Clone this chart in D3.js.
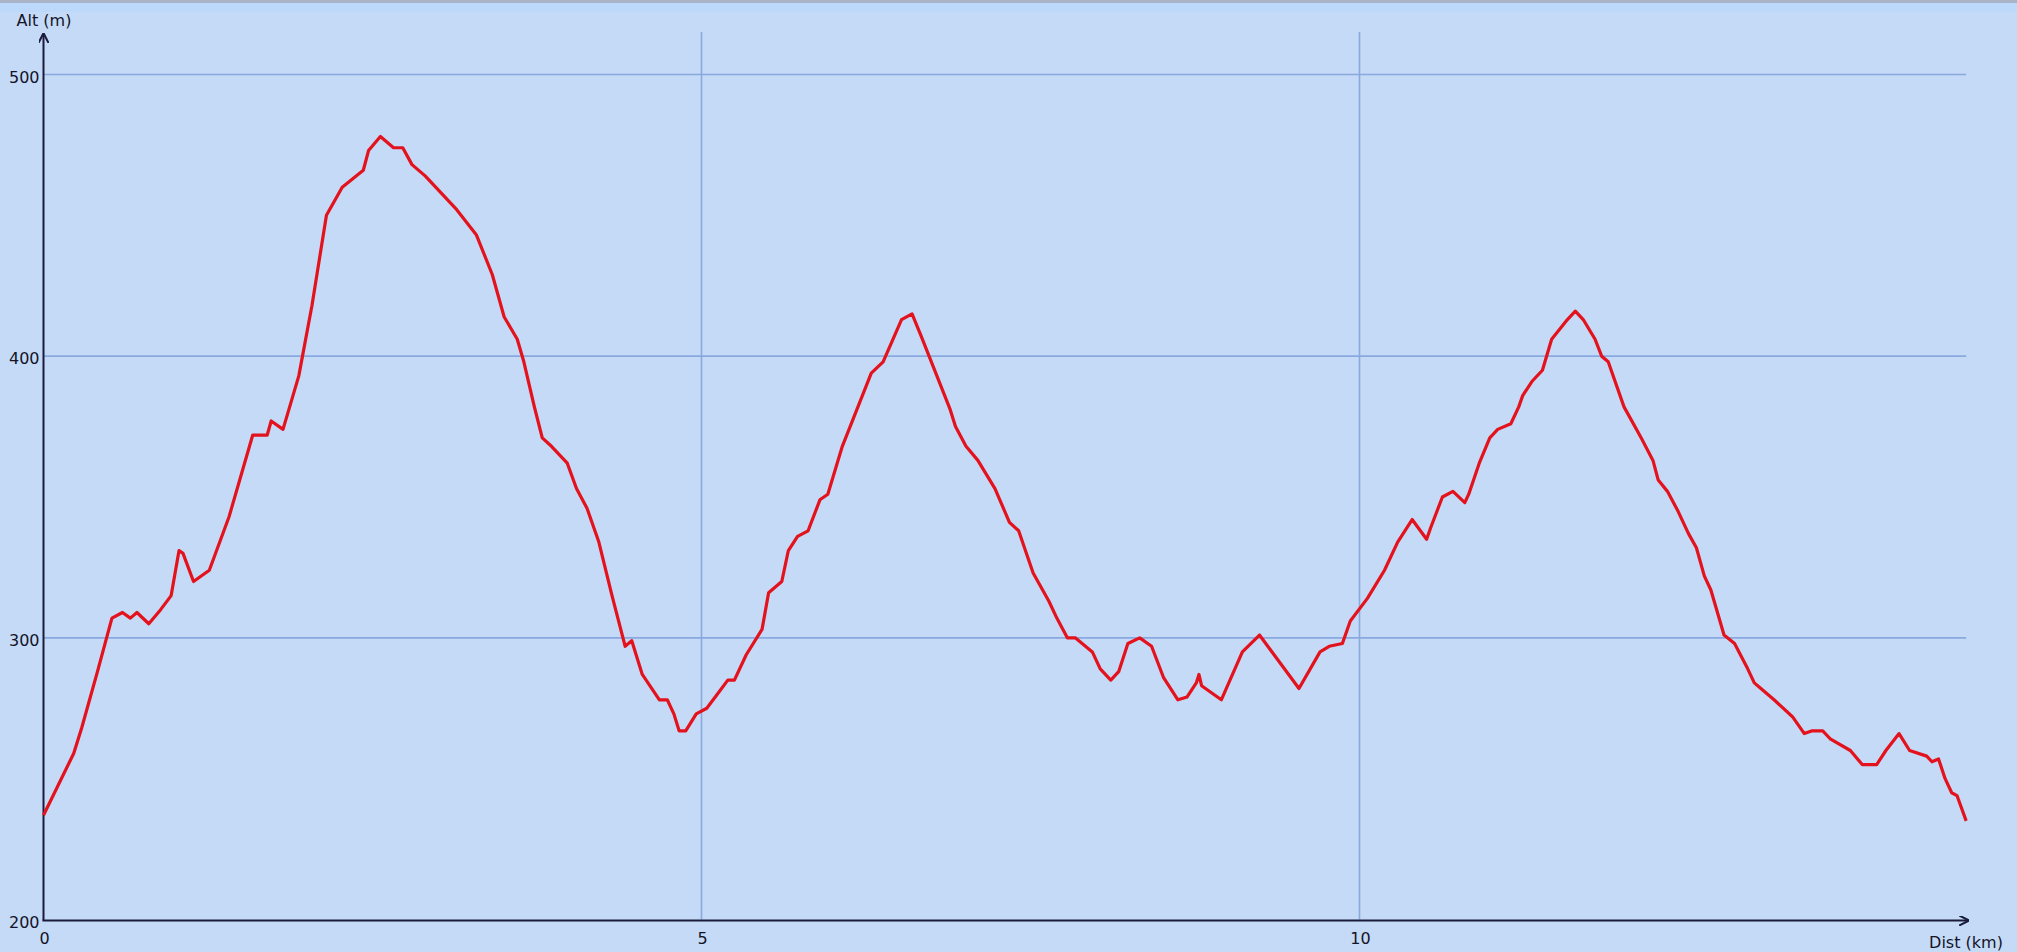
<!DOCTYPE html>
<html>
<head>
<meta charset="utf-8">
<script src="https://cdn.jsdelivr.net/npm/d3@7"></script>
<style>
  body { margin: 0; background: #c4daf6; overflow: hidden; }
  svg { display: block; }
  text { font-family: "DejaVu Sans", sans-serif; font-size: 16px; fill: #141428; }
</style>
</head>
<body>
<svg width="2017" height="952"></svg>
<script>
// profile: distance (km) and altitude (m)
var distKm = [0, 0.23, 0.29, 0.41, 0.52, 0.60, 0.66, 0.71, 0.80, 0.89, 0.97, 1.03, 1.06, 1.14, 1.26, 1.41, 1.59, 1.70, 1.73, 1.82,
  1.94, 2.04, 2.15, 2.27, 2.43, 2.47, 2.56, 2.66, 2.73, 2.80, 2.90, 3.14, 3.29, 3.41, 3.50, 3.60, 3.65, 3.73, 3.79, 3.86,
  3.98, 4.05, 4.13, 4.22, 4.32, 4.42, 4.47, 4.55, 4.68, 4.74, 4.79, 4.83, 4.88, 4.96, 5.04, 5.12, 5.20, 5.25, 5.34, 5.46,
  5.51, 5.61, 5.66, 5.73, 5.81, 5.90, 5.96, 6.07, 6.29, 6.38, 6.52, 6.60, 6.67, 6.89, 6.93, 7.01, 7.10, 7.23, 7.34, 7.41,
  7.52, 7.64, 7.70, 7.78, 7.84, 7.97, 8.03, 8.11, 8.17, 8.24, 8.33, 8.42, 8.51, 8.62, 8.69, 8.76, 8.78, 8.80, 8.95, 9.11,
  9.24, 9.54, 9.70, 9.77, 9.87, 9.93, 10.06, 10.19, 10.29, 10.40, 10.51, 10.54, 10.63, 10.71, 10.80, 10.83, 10.91, 10.99, 11.05, 11.15,
  11.21, 11.24, 11.31, 11.39, 11.46, 11.58, 11.64, 11.70, 11.79, 11.84, 11.89, 12.01, 12.14, 12.23, 12.27, 12.34, 12.42, 12.50, 12.56, 12.62,
  12.67, 12.77, 12.85, 12.95, 13.00, 13.05, 13.15, 13.29, 13.38, 13.44, 13.52, 13.58, 13.73, 13.82, 13.93, 14.00, 14.10, 14.18, 14.31, 14.35,
  14.40, 14.45, 14.50, 14.54, 14.61];
var altM = [237, 259, 268, 288, 307, 309, 307, 309, 305, 310, 315, 331, 330, 320, 324, 343, 372, 372, 377, 374,
  393, 418, 450, 460, 466, 473, 478, 474, 474, 468, 464, 452, 443, 429, 414, 406, 398, 382, 371, 368,
  362, 353, 346, 334, 315, 297, 299, 287, 278, 278, 273, 267, 267, 273, 275, 280, 285, 285, 294, 303,
  316, 320, 331, 336, 338, 349, 351, 368, 394, 398, 413, 415, 407, 381, 375, 368, 363, 353, 341, 338,
  323, 313, 307, 300, 300, 295, 289, 285, 288, 298, 300, 297, 286, 278, 279, 284, 287, 283, 278, 295,
  301, 282, 295, 297, 298, 306, 314, 324, 334, 342, 335, 339, 350, 352, 348, 351, 362, 371, 374, 376,
  382, 386, 391, 395, 406, 413, 416, 413, 406, 400, 398, 382, 371, 363, 356, 352, 345, 337, 332, 322,
  317, 301, 298, 289, 284, 282, 278, 272, 266, 267, 267, 264, 260, 255, 255, 260, 266, 260, 258, 256,
  257, 250, 245, 244, 235];

var xTicks = [0, 5, 10];
var yTicks = [200, 300, 400, 500];
var xLabel = "Dist (km)";
var yLabel = "Alt (m)";

document.addEventListener('DOMContentLoaded', function () {
    const svg = d3.select('svg');
    const width = 2017, height = 952;

    const xScale = d3.scaleLinear().domain([0, 15]).range([43.5, 43.5 + 15 * 131.6]);
    const yScale = d3.scaleLinear().domain([200, 500]).range([919.5, 74.5]);
    const xEnd = xScale(d3.max(distKm));

    // background + top strip
    svg.append('rect').attr('width', width).attr('height', height).attr('fill', '#c4daf6');
    svg.append('rect').attr('width', width).attr('height', 12).attr('fill', '#bcd9fb');
    svg.append('rect').attr('width', width).attr('height', 3).attr('fill', '#a9b4c6');

    const defs = svg.append('defs');
    defs.append('marker').attr('id', 'arrow')
        .attr('viewBox', '0 0 10 10').attr('refX', 9).attr('refY', 5)
        .attr('markerWidth', 5).attr('markerHeight', 5).attr('orient', 'auto')
        .append('path').attr('d', 'M0,0 L10,5 L0,10').attr('fill', 'none')
        .attr('stroke', '#1a1a3a').attr('stroke-width', 2);

    // grid lines
    svg.append('g').selectAll('line.h')
        .data(yTicks.filter(d => d > 200))
        .join('line')
        .attr('x1', xScale(0)).attr('x2', xEnd)
        .attr('y1', d => yScale(d)).attr('y2', d => yScale(d))
        .attr('stroke', '#8aa8e0').attr('stroke-width', 1.6);
    svg.append('g').selectAll('line.v')
        .data(xTicks.filter(d => d > 0))
        .join('line')
        .attr('x1', d => xScale(d)).attr('x2', d => xScale(d))
        .attr('y1', 32).attr('y2', yScale(200))
        .attr('stroke', '#8aa8e0').attr('stroke-width', 1.6);

    // axes
    svg.append('line')
        .attr('x1', xScale(0)).attr('x2', xScale(0))
        .attr('y1', yScale(200) + 1).attr('y2', 34)
        .attr('stroke', '#1a1a3a').attr('stroke-width', 2)
        .attr('marker-end', 'url(#arrow)');
    svg.append('line')
        .attr('x1', xScale(0) - 1).attr('x2', xEnd + 2)
        .attr('y1', yScale(200) + 1).attr('y2', yScale(200) + 1)
        .attr('stroke', '#1a1a3a').attr('stroke-width', 2)
        .attr('marker-end', 'url(#arrow)');

    // tick labels
    svg.append('g').selectAll('text')
        .data(yTicks)
        .join('text')
        .attr('x', xScale(0) - 4)
        .attr('y', d => yScale(d) + 8)
        .attr('text-anchor', 'end')
        .text(d => d);
    svg.append('g').selectAll('text')
        .data(xTicks)
        .join('text')
        .attr('x', d => xScale(d) + 1)
        .attr('y', 944)
        .attr('text-anchor', 'middle')
        .text(d => d);

    svg.append('text').attr('x', 44).attr('y', 26).attr('text-anchor', 'middle').text(yLabel);
    svg.append('text').attr('x', 1966).attr('y', 948).attr('text-anchor', 'middle').text(xLabel);

    // profile line
    const points = distKm.map((d, i) => ({ km: d, alt: altM[i] }));
    svg.append('path')
        .datum(points)
        .attr('fill', 'none')
        .attr('stroke', '#e4121c')
        .attr('stroke-width', 3.2)
        .attr('stroke-linejoin', 'round')
        .attr('d', d3.line()
            .x(d => xScale(d.km))
            .y(d => yScale(d.alt)));
});
</script>
</body>
</html>
